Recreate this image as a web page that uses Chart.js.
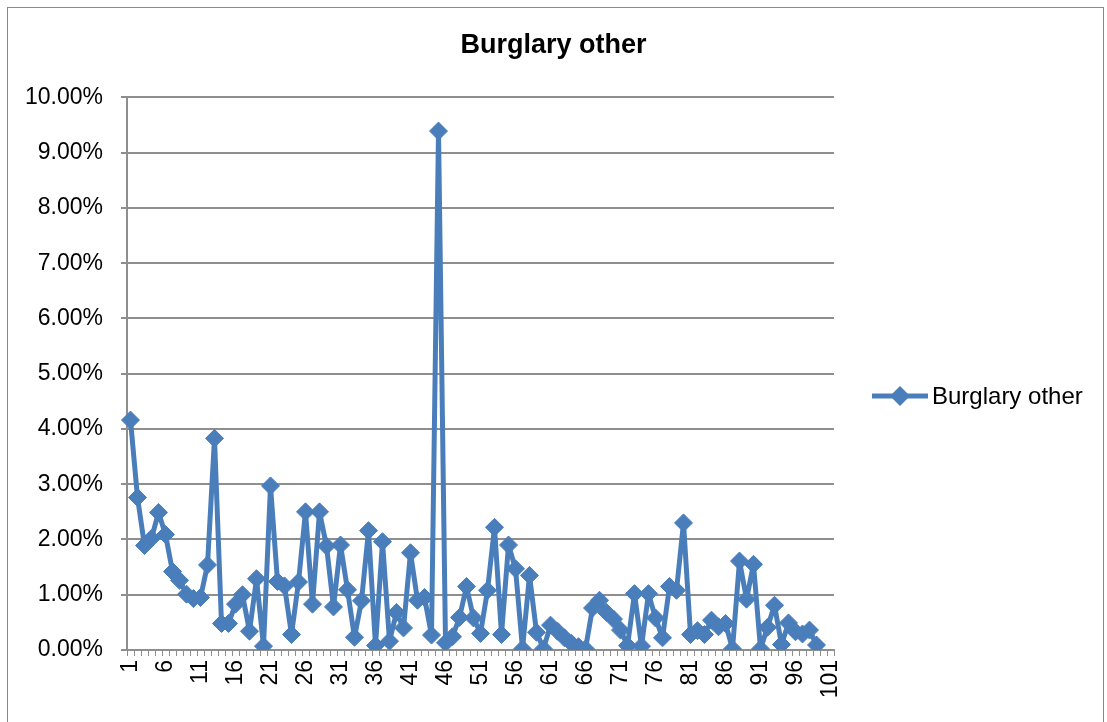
<!DOCTYPE html>
<html>
<head>
<meta charset="utf-8">
<script src="https://cdn.jsdelivr.net/npm/chart.js@4.4.0/dist/chart.umd.min.js"></script>
<style>
  html, body { margin: 0; padding: 0; background: #fff; overflow: hidden; }
  #frame { position: absolute; left: 7px; top: 7px; width: 1097px; height: 800px; border: 1px solid #8a8a8a; box-sizing: border-box; }
  #wrap { position: absolute; left: 0; top: 0; width: 1107px; height: 722px; }
</style>
</head>
<body>
<div id="frame"></div>
<div id="wrap"><canvas id="chart" width="1107" height="722"></canvas></div>
<script>
const seriesName = 'Burglary other';
const chartTitle = 'Burglary other';

// categories 1..101 on the axis
const categories = [];
for (let i = 1; i <= 101; i++) categories.push(String(i));

// values in percent
const values = [
	4.16, 2.76, 1.89, 2.02, 2.49, 2.09, 1.42, 1.26, 1.01, 0.93,
	0.95, 1.54, 3.83, 0.48, 0.48, 0.83, 1.00, 0.34, 1.29, 0.07,
	2.97, 1.24, 1.16, 0.28, 1.23, 2.50, 0.83, 2.50, 1.88, 0.78,
	1.90, 1.09, 0.23, 0.89, 2.16, 0.08, 1.96, 0.16, 0.68, 0.40,
	1.76, 0.90, 0.95, 0.27, 9.39, 0.13, 0.24, 0.59, 1.15, 0.58,
	0.30, 1.08, 2.22, 0.28, 1.90, 1.47, 0.02, 1.35, 0.32, 0.02,
	0.45, 0.34, 0.22, 0.12, 0.06, 0.02, 0.76, 0.90, 0.68, 0.56,
	0.36, 0.08, 1.02, 0.07, 1.02, 0.58, 0.22, 1.15, 1.08, 2.30,
	0.28, 0.35, 0.28, 0.54, 0.42, 0.48, 0.02, 1.61, 0.92, 1.55,
	0.02, 0.41, 0.81, 0.10, 0.49, 0.33, 0.29, 0.36, 0.09
];

const yTicks = [0, 1, 2, 3, 4, 5, 6, 7, 8, 9, 10];

const lineColor = '#4a7ebb';
const gridColor = '#8e8e8e';
const fontFamily = '"Liberation Sans", Arial, sans-serif';

// legend drawn like the Excel one: line with a diamond, then the name
const excelLegend = {
	id: 'excelLegend',
	afterDraw(chart) {
		const ctx = chart.ctx;
		const y = 396;
		ctx.save();
		ctx.strokeStyle = lineColor;
		ctx.lineWidth = 5;
		ctx.beginPath();
		ctx.moveTo(872, y);
		ctx.lineTo(928, y);
		ctx.stroke();
		ctx.fillStyle = lineColor;
		ctx.beginPath();
		ctx.moveTo(900, y - 10);
		ctx.lineTo(910, y);
		ctx.lineTo(900, y + 10);
		ctx.lineTo(890, y);
		ctx.closePath();
		ctx.fill();
		ctx.fillStyle = '#000';
		ctx.font = '24px ' + fontFamily;
		ctx.textBaseline = 'middle';
		ctx.textAlign = 'left';
		ctx.fillText(seriesName, 932, y + 1);
		ctx.restore();
	}
};

new Chart(document.getElementById('chart'), {
	type: 'line',
	data: {
		labels: categories,
		datasets: [{
			label: seriesName,
			data: values,
			borderColor: lineColor,
			backgroundColor: lineColor,
			borderWidth: 5,
			borderJoinStyle: 'round',
			borderCapStyle: 'round',
			pointStyle: 'rectRot',
			pointRadius: 9,
			pointHoverRadius: 9,
			pointBackgroundColor: lineColor,
			pointBorderColor: lineColor,
			pointBorderWidth: 1,
			tension: 0
		}]
	},
	options: {
		responsive: false,
		animation: false,
		events: [],
		layout: { padding: 0 },
		plugins: {
			legend: { display: false },
			tooltip: { enabled: false },
			title: {
				display: true,
				text: chartTitle,
				color: '#000',
				font: { family: fontFamily, size: 27, weight: 'bold', lineHeight: 1.2 },
				padding: { top: 29, bottom: 36 }
			}
		},
		scales: {
			x: {
				type: 'category',
				offset: true,
				grid: { display: true, drawOnChartArea: false, drawTicks: true, tickLength: 6, offset: true, color: gridColor, lineWidth: 1 },
				border: { display: true, color: gridColor, width: 2 },
				ticks: {
					autoSkip: false,
					minRotation: 90,
					maxRotation: 90,
					padding: 4,
					color: '#000',
					font: { family: fontFamily, size: 23 },
					callback: function (val, idx) { return idx % 5 === 0 ? this.getLabelForValue(val) : ''; }
				},
				afterFit(scale) { scale.height = 72; }
			},
			y: {
				min: 0,
				max: 10,
				afterBuildTicks(scale) { scale.ticks = yTicks.map(v => ({ value: v })); },
				grid: { color: gridColor, lineWidth: 2, tickLength: 6, drawTicks: true },
				border: { display: true, color: gridColor, width: 2 },
				ticks: {
					padding: 18,
					color: '#000',
					font: { family: fontFamily, size: 23 },
					callback: v => v.toFixed(2) + '%'
				},
				afterFit(scale) { scale.width = 127; }
			},
			// empty box on the right that keeps room for the legend
			side: {
				type: 'linear',
				position: 'right',
				display: true,
				grid: { display: false, drawTicks: false },
				border: { display: false },
				ticks: { display: false },
				afterFit(scale) { scale.width = 273; }
			}
		}
	},
	plugins: [excelLegend]
});
</script>
</body>
</html>
